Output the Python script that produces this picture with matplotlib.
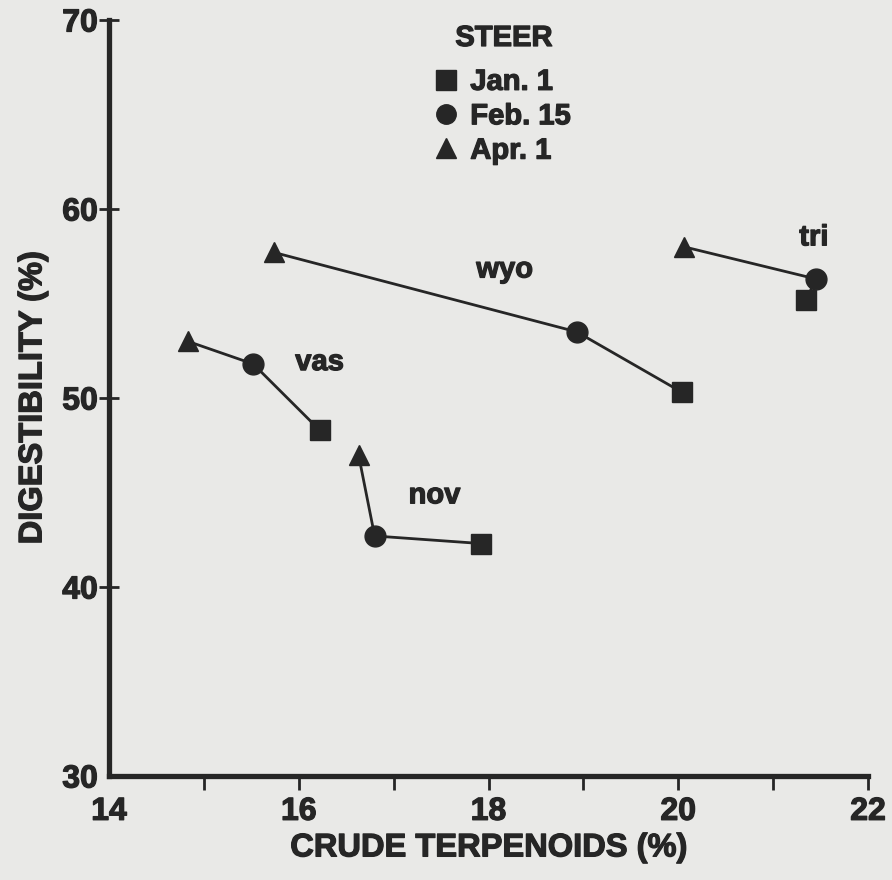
import matplotlib
matplotlib.use("Agg")
import matplotlib.pyplot as plt
import matplotlib.patheffects as pe
from matplotlib.lines import Line2D

plt.rcParams['font.family'] = ['Liberation Sans', 'DejaVu Sans']
plt.rcParams['font.weight'] = 'bold'

INK = '#262626'
BG = '#e9e9e7'
# slight stroke so the type looks as heavy as the printed original
HEAVY = [pe.withStroke(linewidth=0.9, foreground=INK)]

# readings: crude terpenoids (%) and digestibility (%) per sampling date
sites = ['vas', 'wyo', 'nov', 'tri']
jan_terp = [16.22, 20.04, 17.92, 21.35]
jan_dig = [48.3, 50.3, 42.3, 55.2]
feb_terp = [15.52, 18.93, 16.80, 21.45]
feb_dig = [51.8, 53.5, 42.7, 56.3]
apr_terp = [14.83, 15.74, 16.63, 20.06]
apr_dig = [53.0, 57.7, 47.0, 58.0]

label_x = [16.22, 18.17, 17.43, 21.43]
label_y = [51.9, 56.8, 44.85, 58.5]

dates = ['Jan. 1', 'Feb. 15', 'Apr. 1']
date_markers = ['s', 'o', '^']

x_ticks = list(range(14, 23))
x_ticklabels = ['14', '', '16', '', '18', '', '20', '', '22']
y_ticks = [30, 40, 50, 60, 70]

fig = plt.figure(figsize=(8.92, 8.80), dpi=100, facecolor=BG)
ax = fig.add_axes([109 / 892, 1 - 776 / 880, (868 - 109) / 892, (776 - 20) / 880])
ax.set_facecolor(BG)

for i, name in enumerate(sites):
    xs = [apr_terp[i], feb_terp[i], jan_terp[i]]
    ys = [apr_dig[i], feb_dig[i], jan_dig[i]]
    ax.plot(xs, ys, color=INK, lw=2, zorder=2, clip_on=False)
    ax.plot(jan_terp[i], jan_dig[i], 's', color=INK, ms=14, zorder=3, clip_on=False)
    ax.plot(feb_terp[i], feb_dig[i], 'o', color=INK, ms=15, zorder=3, clip_on=False)
    ax.plot(apr_terp[i], apr_dig[i], '^', color=INK, ms=14, zorder=3, clip_on=False)
    ax.text(label_x[i], label_y[i], name, fontsize=21, fontweight='bold',
            color=INK, ha='center', va='center', path_effects=HEAVY)

ax.set_xlim(14, 22)
ax.set_ylim(30, 70)
ax.set_xticks(x_ticks)
ax.set_xticklabels(x_ticklabels)
ax.set_yticks(y_ticks)

for side in ['top', 'right']:
    ax.spines[side].set_visible(False)
for side in ['left', 'bottom']:
    ax.spines[side].set_linewidth(3.8)
    ax.spines[side].set_color(INK)

ax.tick_params(axis='x', direction='out', length=10, width=2, pad=5,
               labelsize=23, colors=INK)
ax.tick_params(axis='y', direction='inout', length=14, width=2, pad=1,
               labelsize=23, colors=INK)
ax.xaxis.get_major_ticks()[0].tick1line.set_visible(False)
ax.yaxis.get_major_ticks()[0].tick1line.set_visible(False)
for t in ax.get_xticklabels() + ax.get_yticklabels():
    t.set_path_effects(HEAVY)

ax.set_xlabel('CRUDE TERPENOIDS (%)', fontsize=23.5, fontweight='bold', color=INK,
              labelpad=4, path_effects=HEAVY)
ax.set_ylabel('DIGESTIBILITY (%)', fontsize=23.5, fontweight='bold', color=INK,
              labelpad=10, path_effects=HEAVY)

fig.text(504 / 892, 1 - 38 / 880, 'STEER', fontsize=21, fontweight='bold', color=INK,
         ha='center', va='center', path_effects=HEAVY)
handles = [Line2D([], [], marker=m, ls='none', color=INK, ms=14) for m in date_markers]
leg = ax.legend(handles, dates, loc='upper left',
                bbox_to_anchor=(428 / 892, 1 - 62 / 880), bbox_transform=fig.transFigure,
                frameon=False, fontsize=21,
                handlelength=0.8, handletextpad=0.45, labelspacing=0.22,
                borderpad=0.2, borderaxespad=0)
for t in leg.get_texts():
    t.set_color(INK)
    t.set_path_effects(HEAVY)

fig.savefig('out.png', dpi=100, facecolor=BG)
